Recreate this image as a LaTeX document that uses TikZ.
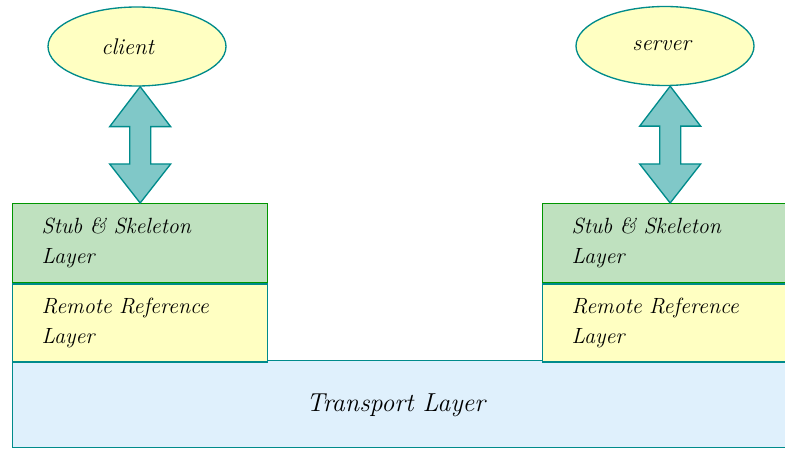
\documentclass[tikz,border=0pt]{standalone}
\usetikzlibrary{shapes.geometric,positioning,calc}

\definecolor{edgeteal}{RGB}{0,139,139}
\definecolor{edgegreen}{RGB}{0,150,0}
\definecolor{stubfill}{RGB}{191,225,191}
\definecolor{paleyellow}{RGB}{255,255,194}
\definecolor{transfill}{RGB}{223,240,252}
\definecolor{arrowfill}{RGB}{128,200,200}

\tikzset{
	layer/.style={rectangle, draw=edgeteal, line width=1pt, anchor=north west,
		inner xsep=21.75pt, inner ysep=0pt, text width=147.75pt, align=left,
		minimum height=59.25pt, font=\fontsize{16.5}{22.5}\selectfont\itshape},
	stubbox/.style={layer, draw=edgegreen, fill=stubfill},
	refbox/.style={layer, draw=edgeteal, fill=paleyellow, minimum height=58.5pt},
	transbox/.style={rectangle, draw=edgeteal, line width=1pt, fill=transfill,
		anchor=north west, minimum width=591pt, minimum height=65.25pt},
	transtext/.style={font=\fontsize{19.5}{23}\selectfont\itshape},
	endpoint/.style={ellipse, draw=edgeteal, line width=1pt, fill=paleyellow,
		minimum width=133.5pt, minimum height=59.25pt, inner sep=0pt,
		font=\fontsize{17}{20}\selectfont\itshape},
	dblarrow/.style={draw=edgeteal, line width=1pt, fill=arrowfill, line join=miter}
}

% two-headed block arrow from #1 (top tip) down to #2 (bottom tip)
\newcommand{\linkarrow}[2]{%
	\draw[dblarrow] (#1) -- ++(30.5,40) -- ++(-20,0) -- ($(#2)+(10.5,-39)$)
		-- ++(20,0) -- (#2) -- ++(-30.5,-39) -- ++(20,0)
		-- ($(#1)+(-10.5,40)$) -- ++(-20,0) -- cycle;
}

\begin{document}
\begin{tikzpicture}[x=0.75pt, y=-0.75pt]
	\useasboundingbox (0,0) rectangle (785,449);
	\clip (0,0) rectangle (785,449);
			%   %   %   %   %   %   %   %   %   %   %
			%   Transport
				\node[transbox] (transport) at (12,360) {};
				\node[transtext] (tltext) at ([shift={(-11,1.5)}]transport.center) {Transport Layer};
			%   %   %   %   %   %   %   %   %   %   %
			%   Client side
				\node[stubbox] (clstub) at (12,203) {Stub \& Skeleton\\Layer};
				\node[refbox] (clref) at (clstub.south west) {Remote Reference\\Layer};
				\node[endpoint] (client) at (137,46.5) {\hspace*{-14pt}client};
				\coordinate (cltop) at (clstub.north |- client.south);
				\linkarrow{cltop}{clstub.north}
			%   %   %   %   %   %   %   %   %   %   %
			%   Server side
				\node[stubbox] (svstub) at (542,203) {Stub \& Skeleton\\Layer};
				\node[refbox] (svref) at (svstub.south west) {Remote Reference\\Layer};
				\node[endpoint] (server) at (665,46) {\hspace*{-5pt}server};
				\coordinate (svtop) at (svstub.north |- server.south);
				\linkarrow{svtop}{svstub.north}
\end{tikzpicture}
\end{document}
